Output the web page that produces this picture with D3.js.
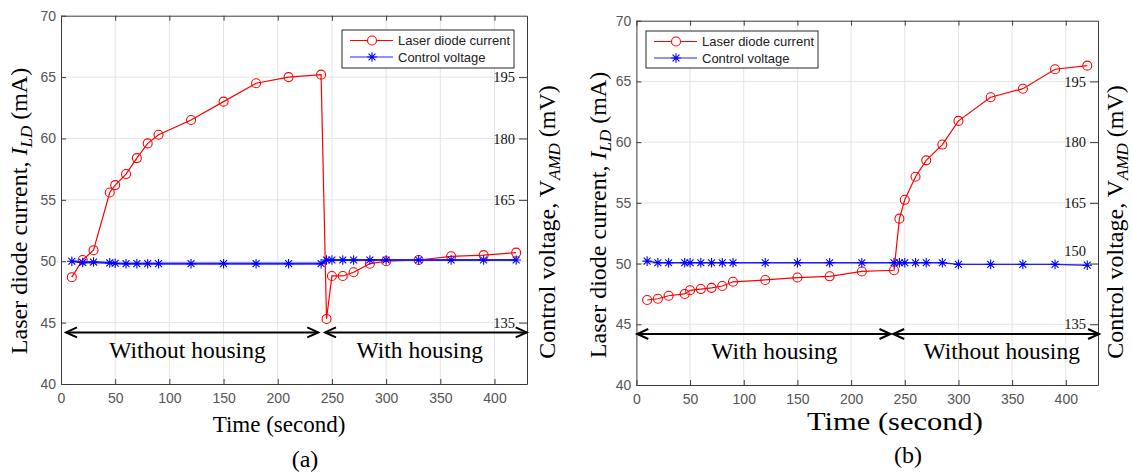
<!DOCTYPE html>
<html>
<head>
<meta charset="utf-8">
<script src="https://cdn.jsdelivr.net/npm/d3@7"></script>
<style>
  body { margin: 0; background: #fff; }
</style>
</head>
<body>
<svg id="chart" width="1132" height="475"></svg>
<script>
// (a) starts without housing, housing put on at ~240 s
const timeA = [10, 20, 30, 45, 50, 60, 70, 80, 90, 120, 150, 180, 210, 240, 245, 250, 260, 270, 285, 300, 330, 360, 390, 420];
const currentA = [48.7, 50.1, 50.9, 55.6, 56.2, 57.1, 58.4, 59.6, 60.3, 61.5, 63.0, 64.5, 65.0, 65.2, 45.3, 48.8, 48.8, 49.1, 49.8, 50.0, 50.1, 50.4, 50.5, 50.7];
const voltageA = [150.0, 149.7, 149.8, 149.6, 149.5, 149.4, 149.4, 149.4, 149.4, 149.4, 149.4, 149.4, 149.4, 149.4, 150.3, 150.3, 150.3, 150.3, 150.3, 150.3, 150.3, 150.3, 150.3, 150.3];

// (b) starts with housing, housing removed at ~240 s
const timeB = [10, 20, 30, 45, 50, 60, 70, 80, 90, 120, 150, 180, 210, 240, 245, 250, 260, 270, 285, 300, 330, 360, 390, 420];
const currentB = [47.0, 47.1, 47.35, 47.5, 47.8, 47.9, 48.0, 48.15, 48.5, 48.65, 48.85, 48.95, 49.35, 49.45, 53.7, 55.25, 57.15, 58.5, 59.8, 61.75, 63.7, 64.4, 66.0, 66.3];
const voltageB = [150.6, 150.2, 150.2, 150.2, 150.2, 150.2, 150.2, 150.2, 150.2, 150.2, 150.2, 150.2, 150.2, 150.2, 150.2, 150.2, 150.2, 150.2, 150.2, 149.8, 149.8, 149.8, 149.8, 149.6];

const xTicks = [0, 50, 100, 150, 200, 250, 300, 350, 400];
const yTicks = [40, 45, 50, 55, 60, 65, 70];
const rightTicksA = [135, 165, 180, 195];
const rightTicksB = [135, 150, 165, 180, 195];
const legendLabels = ['Laser diode current', 'Control voltage'];

// arrow spans (seconds) and their captions
const regionsA = [
  { from: 4.6, to: 237.4, mid: 116.7, label: 'Without housing' },
  { from: 243.6, to: 429.7, mid: 331, label: 'With housing' }
];
const regionsB = [
  { from: 0.8, to: 236.7, mid: 128.6, label: 'With housing' },
  { from: 239.2, to: 431, mid: 340.3, label: 'Without housing' }
];

const svg = d3.select('#chart');
const serif = "'Liberation Serif', 'Times New Roman', serif";
const sans = "'Liberation Sans', Arial, sans-serif";

function starPath(s) {
  const d = s * 0.72;
  return `M${-s},0L${s},0M0,${-s}L0,${s}M${-d},${-d}L${d},${d}M${-d},${d}L${d},${-d}`;
}

function drawPanel(cfg) {
  const g = svg.append('g');
  const x = d3.scaleLinear().domain([0, 430]).range([cfg.left, cfg.right]);
  const y = d3.scaleLinear().domain([40, 70]).range([cfg.bottom, cfg.top]);
  const y2 = d3.scaleLinear().domain([120, 210]).range([cfg.bottom, cfg.top]);

  // grid
  g.append('g').selectAll('line').data(xTicks.slice(1)).join('line')
    .attr('x1', d => x(d)).attr('x2', d => x(d))
    .attr('y1', cfg.top).attr('y2', cfg.bottom)
    .attr('stroke', '#e4e4e4').attr('stroke-width', 1);
  g.append('g').selectAll('line').data(yTicks.slice(1, -1)).join('line')
    .attr('x1', cfg.left).attr('x2', cfg.right)
    .attr('y1', d => y(d)).attr('y2', d => y(d))
    .attr('stroke', '#e4e4e4').attr('stroke-width', 1);

  // axes
  const bottom = g.append('g').attr('transform', `translate(0,${cfg.bottom})`)
    .call(d3.axisBottom(x).tickValues(xTicks).tickSize(-5).tickSizeOuter(0).tickPadding(9));
  const top = g.append('g').attr('transform', `translate(0,${cfg.top})`)
    .call(d3.axisTop(x).tickValues(xTicks).tickSize(-5).tickSizeOuter(0).tickFormat(''));
  const left = g.append('g').attr('transform', `translate(${cfg.left},0)`)
    .call(d3.axisLeft(y).tickValues(yTicks).tickSize(-5).tickSizeOuter(0).tickPadding(5));
  const right = g.append('g').attr('transform', `translate(${cfg.right},0)`)
    .call(d3.axisRight(y2).tickValues(cfg.rightTicks).tickSize(-8).tickSizeOuter(0));

  [bottom, top, left, right].forEach(a => {
    a.select('.domain').attr('stroke', '#3a3a3a').attr('stroke-width', 1);
    a.selectAll('.tick line').attr('stroke', '#3a3a3a');
  });
  [bottom, left].forEach(a => {
    a.selectAll('text').attr('font-family', sans).attr('font-size', 14).attr('fill', '#555');
  });
  right.selectAll('text')
    .attr('font-family', serif).attr('font-size', 14.5).attr('fill', '#111')
    .attr('text-anchor', 'end').attr('x', -12)
    .attr('dy', d => d === 150 ? '-0.55em' : '0.32em');

  // laser diode current (left axis)
  const line = d3.line().x(d => x(d[0])).y(d => y(d[1]));
  const red = d3.zip(cfg.time, cfg.current);
  g.append('path').datum(red).attr('d', line)
    .attr('fill', 'none').attr('stroke', '#ff0000').attr('stroke-width', 1.2);
  g.append('g').selectAll('circle').data(red).join('circle')
    .attr('cx', d => x(d[0])).attr('cy', d => y(d[1])).attr('r', 4.5)
    .attr('fill', 'none').attr('stroke', '#ff0000').attr('stroke-width', 1.1);

  // control voltage (right axis)
  const line2 = d3.line().x(d => x(d[0])).y(d => y2(d[1]));
  const blue = d3.zip(cfg.time, cfg.voltage);
  g.append('path').datum(blue).attr('d', line2)
    .attr('fill', 'none').attr('stroke', '#2020ff').attr('stroke-width', cfg.blueWidth);
  g.append('g').selectAll('path').data(blue).join('path')
    .attr('transform', d => `translate(${x(d[0])},${y2(d[1])})`)
    .attr('d', starPath(4.8))
    .attr('fill', 'none').attr('stroke', '#0000ff').attr('stroke-width', 1.1);

  // double arrows + captions
  const ay = y(44.2);
  cfg.regions.forEach(r => {
    const x1 = x(r.from), x2 = x(r.to);
    g.append('line').attr('x1', x1).attr('x2', x2).attr('y1', ay).attr('y2', ay)
      .attr('stroke', '#000').attr('stroke-width', 2);
    g.append('path')
      .attr('d', `M${x1 + 11},${ay - 5}L${x1},${ay}L${x1 + 11},${ay + 5}M${x2 - 11},${ay - 5}L${x2},${ay}L${x2 - 11},${ay + 5}`)
      .attr('fill', 'none').attr('stroke', '#000').attr('stroke-width', 2);
    g.append('text').attr('x', x(r.mid)).attr('y', y(42.15))
      .attr('text-anchor', 'middle').attr('font-family', serif).attr('font-size', 23.5)
      .text(r.label);
  });

  // legend
  const lg = g.append('g').attr('transform', `translate(${cfg.legend[0]},${cfg.legend[1]})`);
  lg.append('rect').attr('width', cfg.legend[2]).attr('height', cfg.legend[3])
    .attr('fill', '#fff').attr('stroke', '#262626').attr('stroke-width', 1);
  legendLabels.forEach((lab, i) => {
    const ly = 10.5 + i * 16.5;
    const col = i === 0 ? '#ff0000' : '#2020ff';
    lg.append('line').attr('x1', 8).attr('x2', 51).attr('y1', ly).attr('y2', ly)
      .attr('stroke', col).attr('stroke-width', 1.2);
    if (i === 0) {
      lg.append('circle').attr('cx', 30).attr('cy', ly).attr('r', 4.5)
        .attr('fill', '#fff').attr('stroke', '#ff0000').attr('stroke-width', 1.1);
    } else {
      lg.append('path').attr('transform', `translate(30,${ly})`).attr('d', starPath(4.8))
        .attr('fill', 'none').attr('stroke', '#0000ff').attr('stroke-width', 1.1);
    }
    lg.append('text').attr('x', 56).attr('y', ly).attr('dy', '0.35em')
      .attr('font-family', sans).attr('font-size', 13).attr('fill', '#222').text(lab);
  });

  // axis titles
  const t1 = g.append('text')
    .attr('transform', `translate(${cfg.yTitle[0]},${cfg.yTitle[1]}) rotate(-90)`)
    .attr('text-anchor', 'middle').attr('font-family', serif).attr('font-size', 24);
  t1.append('tspan').text('Laser diode current, ');
  t1.append('tspan').attr('font-style', 'italic').text('I');
  t1.append('tspan').attr('font-style', 'italic').attr('font-size', 17).attr('dy', 5).text('LD');
  t1.append('tspan').attr('dy', -5).text(' (mA)');

  const t2 = g.append('text')
    .attr('transform', `translate(${cfg.y2Title[0]},${cfg.y2Title[1]}) rotate(-90)`)
    .attr('text-anchor', 'middle').attr('font-family', serif).attr('font-size', 24);
  t2.append('tspan').text('Control voltage, V');
  t2.append('tspan').attr('font-style', 'italic').attr('font-size', 17).attr('dy', 5).text('AMD');
  t2.append('tspan').attr('dy', -5).text(' (mV)');

  const xt = g.append('text').attr('x', cfg.xTitle[0]).attr('y', cfg.xTitle[1])
    .attr('text-anchor', 'middle').attr('font-family', serif).attr('font-size', cfg.xTitle[2])
    .text('Time (second)');
  if (cfg.xTitle[3]) xt.attr('textLength', cfg.xTitle[3]).attr('lengthAdjust', 'spacingAndGlyphs');
  g.append('text').attr('x', cfg.tag[0]).attr('y', cfg.tag[1])
    .attr('text-anchor', 'middle').attr('font-family', serif).attr('font-size', 24)
    .text(cfg.tag[2]);
}

drawPanel({
  left: 61, right: 527, top: 15.7, bottom: 384,
  time: timeA, current: currentA, voltage: voltageA,
  rightTicks: rightTicksA, regions: regionsA, blueWidth: 2.2,
  legend: [342, 30, 172, 38],
  yTitle: [27, 211], y2Title: [555, 222],
  xTitle: [279, 432, 23, 0], tag: [305, 467, '(a)']
});

drawPanel({
  left: 636.4, right: 1098, top: 20.7, bottom: 385,
  time: timeB, current: currentB, voltage: voltageB,
  rightTicks: rightTicksB, regions: regionsB, blueWidth: 1.4,
  legend: [646, 31, 172, 37],
  yTitle: [606, 215], y2Title: [1123, 222],
  xTitle: [895, 430, 26, 176], tag: [908, 463, '(b)']
});
</script>
</body>
</html>
